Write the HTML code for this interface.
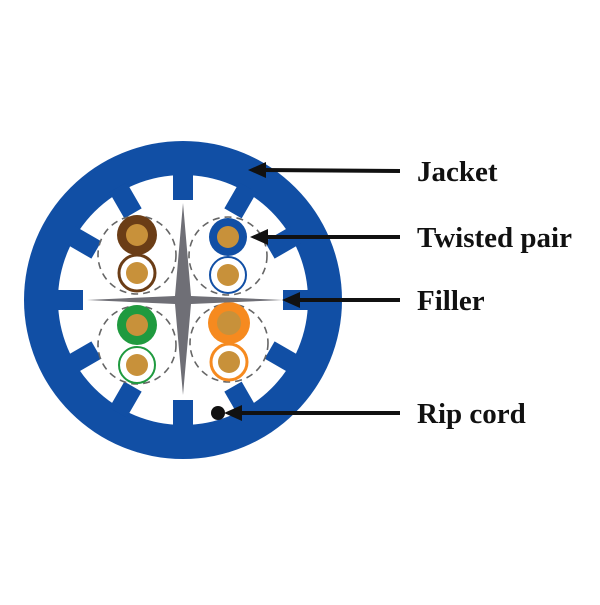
<!DOCTYPE html>
<html><head><style>body{margin:0;background:#fff}</style></head><body>
<svg width="600" height="600" viewBox="0 0 600 600" xmlns="http://www.w3.org/2000/svg">
<circle cx="183" cy="300" r="159" fill="#114fa5"/>
<circle cx="183" cy="300" r="125" fill="#fff"/>
<g fill="#114fa5">
<rect x="173" y="170" width="20" height="30" transform="rotate(0 183 300)"/>
<rect x="173" y="170" width="20" height="30" transform="rotate(30 183 300)"/>
<rect x="173" y="170" width="20" height="30" transform="rotate(60 183 300)"/>
<rect x="173" y="170" width="20" height="30" transform="rotate(90 183 300)"/>
<rect x="173" y="170" width="20" height="30" transform="rotate(120 183 300)"/>
<rect x="173" y="170" width="20" height="30" transform="rotate(150 183 300)"/>
<rect x="173" y="170" width="20" height="30" transform="rotate(180 183 300)"/>
<rect x="173" y="170" width="20" height="30" transform="rotate(210 183 300)"/>
<rect x="173" y="170" width="20" height="30" transform="rotate(240 183 300)"/>
<rect x="173" y="170" width="20" height="30" transform="rotate(270 183 300)"/>
<rect x="173" y="170" width="20" height="30" transform="rotate(300 183 300)"/>
<rect x="173" y="170" width="20" height="30" transform="rotate(330 183 300)"/>
</g>
<g fill="none" stroke="#666" stroke-width="1.6" stroke-dasharray="7,5">
<circle cx="137" cy="255" r="39"/><circle cx="228" cy="256" r="39"/>
<circle cx="137" cy="345" r="39"/><circle cx="229" cy="343" r="39"/>
</g>
<circle cx="137" cy="235" r="20" fill="#6b3d16"/><circle cx="137" cy="235" r="11" fill="#c8913a"/>
<circle cx="137" cy="273" r="18" fill="#fff" stroke="#6b3d16" stroke-width="3"/><circle cx="137" cy="273" r="11" fill="#c8913a"/>
<circle cx="228" cy="237" r="19" fill="#114fa5"/><circle cx="228" cy="237" r="11" fill="#c8913a"/>
<circle cx="228" cy="275" r="18" fill="#fff" stroke="#114fa5" stroke-width="2"/><circle cx="228" cy="275" r="11" fill="#c8913a"/>
<circle cx="137" cy="325" r="20" fill="#1f9a3f"/><circle cx="137" cy="325" r="11" fill="#c8913a"/>
<circle cx="137" cy="365" r="18" fill="#fff" stroke="#1f9a3f" stroke-width="2"/><circle cx="137" cy="365" r="11" fill="#c8913a"/>
<circle cx="229" cy="323" r="21" fill="#f68a1f"/><circle cx="229" cy="323" r="12" fill="#c8913a"/>
<circle cx="229" cy="362" r="18" fill="#fff" stroke="#f68a1f" stroke-width="3"/><circle cx="229" cy="362" r="11" fill="#c8913a"/>
<path d="M87,300 L175,296 L183,203 L191,296 L283,300 L191,304 L183,395 L175,304 Z" fill="#6f6f76"/>
<circle cx="218" cy="413" r="7" fill="#111"/>
<g stroke="#111" stroke-width="4">
<line x1="400" y1="171" x2="262" y2="170"/>
<line x1="400" y1="237" x2="264" y2="237"/>
<line x1="400" y1="300" x2="296" y2="300"/>
<line x1="400" y1="413" x2="238" y2="413"/>
</g>
<g fill="#111">
<path d="M248,170 L266,162 L266,178 Z"/>
<path d="M250,237 L268,229 L268,245 Z"/>
<path d="M282,300 L300,292 L300,308 Z"/>
<path d="M224,413 L242,405 L242,421 Z"/>
</g>
<g font-family="Liberation Serif, serif" font-weight="bold" font-size="29" fill="#111">
<text x="417" y="181">Jacket</text>
<text x="417" y="247">Twisted pair</text>
<text x="417" y="310">Filler</text>
<text x="417" y="423">Rip cord</text>
</g>
</svg>
</body></html>
